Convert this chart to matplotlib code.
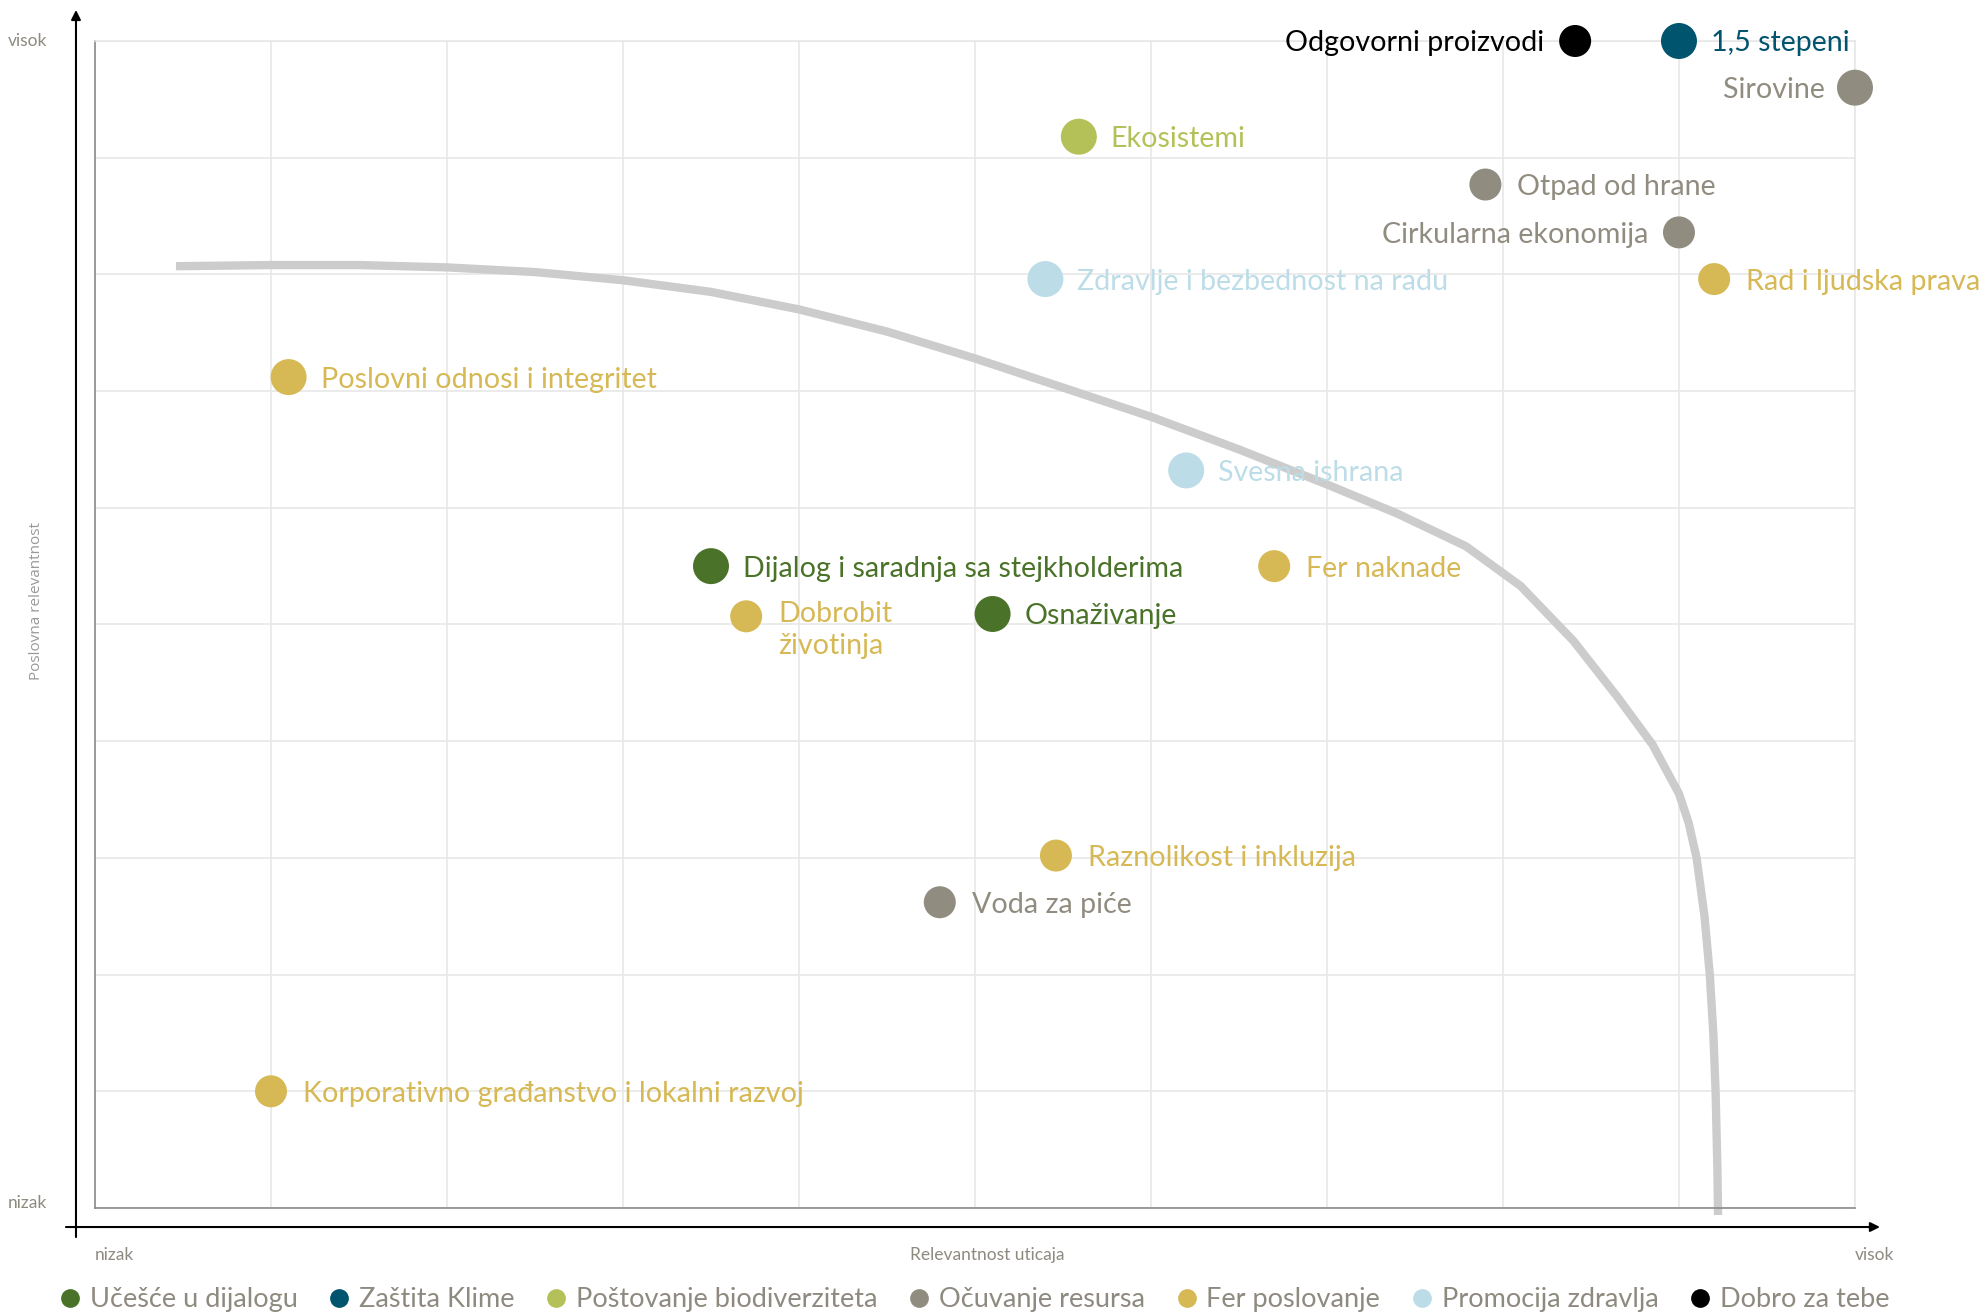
import matplotlib.pyplot as plt
from matplotlib.lines import Line2D

# categories (legend)
categories = ['Učešće u dijalogu', 'Zaštita Klime', 'Poštovanje biodiverziteta',
              'Očuvanje resursa', 'Fer poslovanje', 'Promocija zdravlja', 'Dobro za tebe']
cat_colors = ['#4a7329', '#00546e', '#b4c158', '#918c80', '#d6b955', '#bcdde7', '#000000']

# topics: relevance of impact (x) and business relevance (y), 0-10 scale
topics = ['Odgovorni proizvodi', '1,5 stepeni', 'Sirovine', 'Ekosistemi', 'Otpad od hrane',
          'Cirkularna ekonomija', 'Zdravlje i bezbednost na radu', 'Rad i ljudska prava',
          'Poslovni odnosi i integritet', 'Svesna ishrana',
          'Dijalog i saradnja sa stejkholderima', 'Fer naknade', 'Dobrobit\nživotinja',
          'Osnaživanje', 'Raznolikost i inkluzija', 'Voda za piće',
          'Korporativno građanstvo i lokalni razvoj']
impact = [8.41, 9.0, 10.0, 5.59, 7.9, 9.0, 5.4, 9.2, 1.1, 6.2, 3.5, 6.7, 3.7, 5.1, 5.46, 4.8, 1.0]
business = [10.0, 10.0, 9.6, 9.18, 8.77, 8.36, 7.96, 7.96, 7.12, 6.32, 5.5, 5.5, 5.07, 5.09,
            3.02, 2.62, 1.0]
topic_cat = [6, 1, 3, 2, 3, 3, 5, 4, 4, 5, 0, 4, 4, 0, 4, 3, 4]

# materiality threshold curve
frontier_x = [0.46, 1.0, 1.5, 2.0, 2.5, 3.0, 3.5, 4.0, 4.5, 5.0, 5.5, 6.0, 6.5, 7.0, 7.4,
              7.79, 8.1, 8.4, 8.65, 8.85, 9.0, 9.055, 9.1, 9.145, 9.175, 9.195, 9.208,
              9.218, 9.222]
frontier_y = [8.07, 8.08, 8.08, 8.06, 8.02, 7.95, 7.85, 7.70, 7.51, 7.28, 7.03, 6.78, 6.50,
              6.20, 5.95, 5.67, 5.33, 4.86, 4.38, 3.97, 3.55, 3.3, 3.0, 2.5, 2.0, 1.5, 1.0,
              0.35, -0.06]

# styling per topic
big_dot = [0, 1, 1, 1, 0, 0, 1, 0, 1, 1, 1, 0, 0, 1, 0, 0, 0]
label_left = ['Odgovorni proizvodi', 'Sirovine', 'Cirkularna ekonomija']

FONT = ['Lato', 'DejaVu Sans']
FS = 20.6
GRAY_TXT = '#8e8a80'

fig = plt.figure(figsize=(19.86, 13.16), dpi=100)
ax = fig.add_axes([0.04783, 0.08207, 0.8862, 0.88678])
ax.set_xlim(0, 10)
ax.set_ylim(0, 10)
ax.set_xticks(range(11))
ax.set_yticks(range(11))
ax.tick_params(length=0, labelbottom=False, labelleft=False)
ax.grid(color='#e6e6e6', lw=1.1)
ax.set_axisbelow(True)
for s in ['top', 'right']:
    ax.spines[s].set_color('#e6e6e6')
    ax.spines[s].set_linewidth(1.1)
for s in ['left', 'bottom']:
    ax.spines[s].set_color('#8a8a8a')
    ax.spines[s].set_linewidth(1.2)

ax.plot(frontier_x, frontier_y, color='#cccccc', lw=6, solid_capstyle='butt',
        solid_joinstyle='round', clip_on=False, zorder=2)

cols = [cat_colors[c] for c in topic_cat]
sizes = [671 if b else 531 for b in big_dot]
ax.scatter(impact, business, s=sizes, c=cols, linewidths=0, zorder=3, clip_on=False)

for name, x, y, c in zip(topics, impact, business, cols):
    if name in label_left:
        ax.annotate(name, (x, y), xytext=(-22, 0), textcoords='offset points',
                    ha='right', va='center_baseline', color=c, fontsize=FS, family=FONT)
    elif '\n' in name:
        ax.annotate(name, (x, y), xytext=(23, 11), textcoords='offset points',
                    ha='left', va='top', color=c, fontsize=FS, family=FONT,
                    linespacing=1.3)
    else:
        ax.annotate(name, (x, y), xytext=(23, 0), textcoords='offset points',
                    ha='left', va='center_baseline', color=c, fontsize=FS, family=FONT)

# arrow axes
arrow = dict(arrowstyle='-|>', color='black', lw=1.5, mutation_scale=14, shrinkA=0, shrinkB=0)
ax.annotate('', xy=(-0.0108, 1.0266), xytext=(-0.0108, -0.0249), xycoords='axes fraction',
            arrowprops=arrow, annotation_clip=False)
ax.annotate('', xy=(1.0142, -0.0163), xytext=(-0.0165, -0.0163), xycoords='axes fraction',
            arrowprops=arrow, annotation_clip=False)

# axis texts
ax.text(-0.0273, 1.0, 'visok', transform=ax.transAxes, ha='right', va='center',
        fontsize=12.5, color=GRAY_TXT, family=FONT)
ax.text(-0.0273, 0.004, 'nizak', transform=ax.transAxes, ha='right', va='center',
        fontsize=12.5, color=GRAY_TXT, family=FONT)
ax.text(0.0, -0.0403, 'nizak', transform=ax.transAxes, ha='left', va='center',
        fontsize=12.5, color=GRAY_TXT, family=FONT)
ax.text(1.0, -0.0403, 'visok', transform=ax.transAxes, ha='left', va='center',
        fontsize=12.5, color=GRAY_TXT, family=FONT)
ax.text(0.507, -0.0403, 'Relevantnost uticaja', transform=ax.transAxes, ha='center',
        va='center', fontsize=12.5, color=GRAY_TXT, family=FONT)
ax.text(-0.033, 0.52, 'Poslovna relevantnost', transform=ax.transAxes, ha='center',
        va='center', rotation=90, fontsize=11, color='#999999',
        family=['Open Sans', 'DejaVu Sans'])

handles = [Line2D([], [], marker='o', ls='none', markersize=13.5, markerfacecolor=c,
                  markeredgewidth=0) for c in cat_colors]
fig.legend(handles, categories, loc='center', bbox_to_anchor=(0.4909, 0.0122), ncol=7,
           frameon=False, handlelength=0.7, handletextpad=0.37, columnspacing=1.2,
           labelcolor=GRAY_TXT, prop={'family': FONT, 'size': 19.5}, borderpad=0)

fig.savefig('out.png', dpi=100)
